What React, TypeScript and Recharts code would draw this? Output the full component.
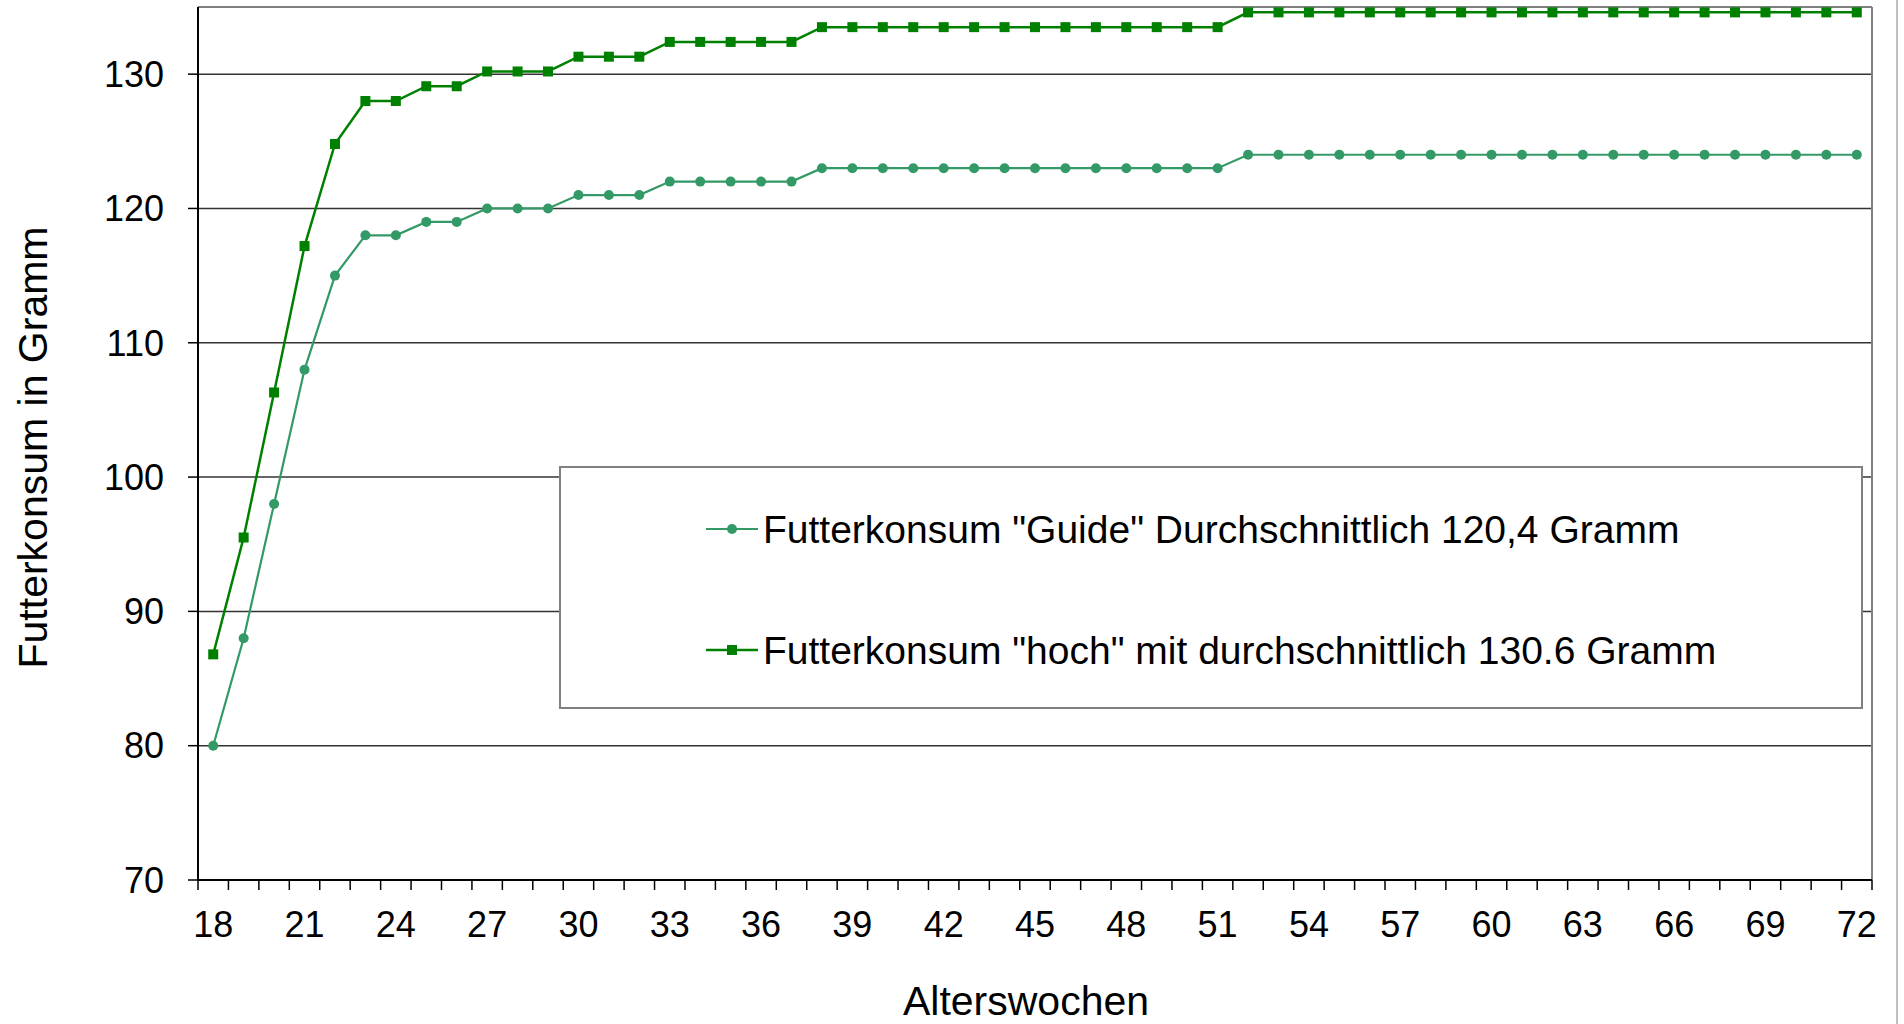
import { CartesianGrid, Label, Legend, Line, LineChart, ReferenceLine, XAxis, YAxis } from 'recharts';

const weeks = [
  18, 19, 20, 21, 22, 23, 24, 25, 26, 27, 28, 29, 30, 31, 32, 33, 34, 35, 36,
  37, 38, 39, 40, 41, 42, 43, 44, 45, 46, 47, 48, 49, 50, 51, 52, 53, 54, 55,
  56, 57, 58, 59, 60, 61, 62, 63, 64, 65, 66, 67, 68, 69, 70, 71, 72,
];

const guideValues = [
  80, 88, 98, 108, 115, 118, 118, 119, 119, 120, 120, 120, 121, 121, 121,
  122, 122, 122, 122, 122,
  123, 123, 123, 123, 123, 123, 123, 123, 123, 123, 123, 123, 123, 123,
  124, 124, 124, 124, 124, 124, 124, 124, 124, 124, 124, 124, 124, 124, 124, 124, 124, 124, 124, 124, 124,
];

const hochValues = [
  86.8, 95.5, 106.3, 117.2, 124.8, 128.0, 128.0, 129.1, 129.1, 130.2, 130.2, 130.2, 131.3, 131.3, 131.3,
  132.4, 132.4, 132.4, 132.4, 132.4,
  133.5, 133.5, 133.5, 133.5, 133.5, 133.5, 133.5, 133.5, 133.5, 133.5, 133.5, 133.5, 133.5, 133.5,
  134.6, 134.6, 134.6, 134.6, 134.6, 134.6, 134.6, 134.6, 134.6, 134.6, 134.6, 134.6, 134.6, 134.6, 134.6, 134.6, 134.6, 134.6, 134.6, 134.6, 134.6,
];

const yTicks = [70, 80, 90, 100, 110, 120, 130];
const labelWeeks = [18, 21, 24, 27, 30, 33, 36, 39, 42, 45, 48, 51, 54, 57, 60, 63, 66, 69, 72];

const guideName = 'Futterkonsum "Guide" Durchschnittlich 120,4 Gramm';
const hochName = 'Futterkonsum "hoch" mit durchschnittlich 130.6 Gramm';

const data = weeks.map((week, i) => ({ week, guide: guideValues[i], hoch: hochValues[i] }));

const FONT = '"Liberation Sans", Arial, sans-serif';
const GUIDE_COLOR = '#339966';
const HOCH_COLOR = '#008000';

const W = 1904;
const H = 1024;
const PLOT_LEFT = 198;
const PLOT_RIGHT = 1872;
const HALF_BAND = (PLOT_RIGHT - PLOT_LEFT) / weeks.length / 2;

function WeekTick(props: any) {
  const { x, y, payload } = props;
  const v = payload.value;
  return (
    <g>
      <line x1={x - HALF_BAND} x2={x - HALF_BAND} y1={y} y2={y + 10} stroke="#000" strokeWidth={1.5} />
      {v === 72 && <line x1={x + HALF_BAND} x2={x + HALF_BAND} y1={y} y2={y + 10} stroke="#000" strokeWidth={1.5} />}
      {labelWeeks.includes(v) && (
        <text x={x} y={y + 44} textAnchor="middle" dominantBaseline="central" fontSize={36} fontFamily={FONT} fill="#000">
          {v}
        </text>
      )}
    </g>
  );
}

function SquareDot(props: any) {
  const { cx, cy } = props;
  if (cx == null || cy == null) return null;
  return <rect x={cx - 5} y={cy - 5} width={10} height={10} fill={HOCH_COLOR} />;
}

function LegendBox() {
  const row = (top: number, name: string, square: boolean, color: string, width: number) => (
    <div style={{ position: 'absolute', left: 145, top: top - 25, height: 50, display: 'flex', alignItems: 'center' }}>
      <svg width={52} height={20}>
        <line x1={0} x2={52} y1={10} y2={10} stroke={color} strokeWidth={width} />
        {square ? <rect x={21} y={5} width={10} height={10} fill={color} /> : <circle cx={26} cy={10} r={5} fill={color} />}
      </svg>
      <span style={{ marginLeft: 5, fontSize: 39, fontFamily: FONT, color: '#000', lineHeight: 1, whiteSpace: 'nowrap' }}>{name}</span>
    </div>
  );
  return (
    <div style={{ position: 'relative', width: 1304, height: 243, boxSizing: 'border-box', border: '2px solid #808080', background: '#fff' }}>
      {row(61, guideName, false, GUIDE_COLOR, 2.2)}
      {row(182, hochName, true, HOCH_COLOR, 2.5)}
    </div>
  );
}

function YTitle(props: any) {
  const vb = props.viewBox || { y: 7, height: 873 };
  const cy = vb.y + vb.height / 2 + 4;
  return (
    <text x={33} y={cy} transform={`rotate(-90, 33, ${cy})`} textAnchor="middle" dominantBaseline="central" fontSize={41} fontFamily={FONT} fill="#000">
      Futterkonsum in Gramm
    </text>
  );
}

function XTitle() {
  return (
    <text x={1026} y={1001} textAnchor="middle" dominantBaseline="central" fontSize={41} fontFamily={FONT} fill="#000">
      Alterswochen
    </text>
  );
}

export default function App() {
  return (
    <div style={{ position: 'absolute', left: 0, top: 0, width: W, height: H, background: '#fff', overflow: 'hidden' }}>
      <LineChart width={W} height={H} data={data} margin={{ top: 7, right: W - PLOT_RIGHT, left: 0, bottom: 0 }}>
        <CartesianGrid horizontal vertical={false} stroke="#333" strokeWidth={1.5} />
        <XAxis
          dataKey="week"
          type="number"
          domain={[17.5, 72.5]}
          ticks={weeks}
          interval={0}
          allowDataOverflow
          height={144}
          tickLine={false}
          tickSize={0}
          tickMargin={0}
          tick={<WeekTick />}
          axisLine={{ stroke: '#000', strokeWidth: 2 }}
        >
          <Label content={<XTitle />} />
        </XAxis>
        <YAxis
          type="number"
          domain={[70, 135]}
          ticks={yTicks}
          interval={0}
          allowDataOverflow
          width={PLOT_LEFT}
          tickSize={10}
          tickMargin={24}
          tickLine={{ stroke: '#000', strokeWidth: 1.5 }}
          axisLine={{ stroke: '#000', strokeWidth: 2 }}
          tick={{ fontSize: 36, fontFamily: FONT, fill: '#000' }}
        >
          <Label content={<YTitle />} />
        </YAxis>
        <ReferenceLine y={135} stroke="#808080" strokeWidth={2} />
        <ReferenceLine x={72.5} stroke="#808080" strokeWidth={2} />
        <Legend
          layout="horizontal"
          verticalAlign="middle"
          align="center"
          content={<LegendBox />}
          wrapperStyle={{ position: 'absolute', left: 559, top: 466, width: 1304, height: 243 }}
        />
        <Line
          type="linear"
          dataKey="guide"
          name={guideName}
          stroke={GUIDE_COLOR}
          strokeWidth={2.2}
          dot={{ r: 5, fill: GUIDE_COLOR, stroke: 'none' }}
          activeDot={false}
          isAnimationActive={false}
        />
        <Line
          type="linear"
          dataKey="hoch"
          name={hochName}
          stroke={HOCH_COLOR}
          strokeWidth={2.5}
          dot={<SquareDot />}
          activeDot={false}
          isAnimationActive={false}
        />
      </LineChart>
      <div style={{ position: 'absolute', left: 1896, top: 0, width: 2, height: H, background: '#c0c0c0' }} />
    </div>
  );
}
